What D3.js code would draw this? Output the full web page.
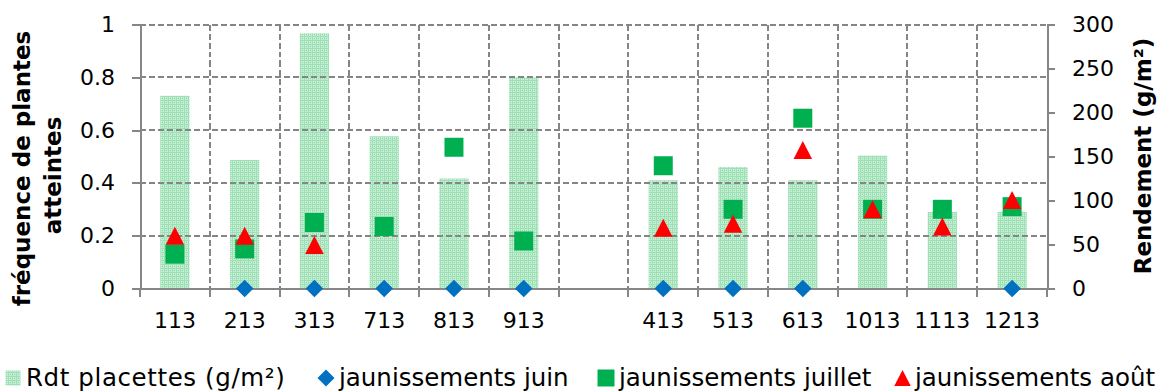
<!DOCTYPE html>
<html>
<head>
<meta charset="utf-8">
<script src="https://cdn.jsdelivr.net/npm/d3@7"></script>
<style>
  body { margin: 0; background: #fff; }
  svg { display: block; }
  text { font-family: "DejaVu Sans", sans-serif; fill: #000; }
</style>
</head>
<body>
<svg id="chart" width="1161" height="392"></svg>
<script>
// Plots: one empty slot separates the two groups
const categories = ["113", "213", "313", "713", "813", "913", "", "413", "513", "613", "1013", "1113", "1213"];
// Yield per plot (g/m², right axis)
const rdtPlacettes = [219, 146, 290, 173, 125, 240, null, 123, 138, 123, 151, 87, 87];
// Share of affected plants (left axis)
const jaunJuin    = [null, 0, 0, 0, 0, 0, null, 0, 0, 0, null, null, 0];
const jaunJuillet = [0.13, 0.15, 0.25, 0.235, 0.535, 0.18, null, 0.465, 0.30, 0.645, 0.30, 0.30, 0.31];
const jaunAout    = [0.20, 0.20, 0.165, null, null, null, null, 0.23, 0.245, 0.525, 0.30, 0.235, 0.335];
const freqTicks = [0, 0.2, 0.4, 0.6, 0.8, 1];
const rdtTicks = [0, 50, 100, 150, 200, 250, 300];
const legendLabels = ["Rdt placettes (g/m²)", "jaunissements juin", "jaunissements juillet", "jaunissements août"];

const colBlue = "#0070C0", colGreen = "#00B050", colRed = "#FF0000";
const gridCol = "#858585", axisCol = "#868686";

const svg = d3.select("#chart");
const plot = { left: 140, right: 1047, top: 24.5, bottom: 288.5 };

const x = d3.scaleBand().domain(d3.range(categories.length)).range([plot.left, plot.right]);
const yL = d3.scaleLinear().domain([0, 1]).range([plot.bottom, plot.top]);
const yR = d3.scaleLinear().domain([0, 300]).range([plot.bottom, plot.top]);
const cx = i => x(i) + x.bandwidth() / 2;

// dotted light-green fill for the yield bars
const defs = svg.append("defs");
const pat = defs.append("pattern").attr("id", "rdtPattern")
  .attr("patternUnits", "userSpaceOnUse").attr("width", 4).attr("height", 4);
pat.append("rect").attr("width", 4).attr("height", 4).attr("fill", "#c3eed2");
pat.append("rect").attr("width", 4).attr("height", 1).attr("fill", "#9edfb6");
pat.append("rect").attr("width", 1).attr("height", 4).attr("fill", "#9edfb6");
pat.append("rect").attr("x", 2).attr("y", 2).attr("width", 1).attr("height", 1).attr("fill", "#80d4a0");

// bars
const barW = x.bandwidth() * 0.42;
svg.append("g").selectAll("rect")
  .data(rdtPlacettes.map((v, i) => ({ v, i })).filter(d => d.v != null))
  .join("rect")
  .attr("x", d => cx(d.i) - barW / 2)
  .attr("y", d => yR(d.v))
  .attr("width", barW)
  .attr("height", d => yR(0) - yR(d.v))
  .attr("fill", "url(#rdtPattern)");

// dashed gridlines
const grid = svg.append("g").attr("stroke", gridCol).attr("stroke-width", 2)
  .attr("stroke-dasharray", "6,3").attr("shape-rendering", "crispEdges");
grid.selectAll("line.h").data(freqTicks.filter(t => t > 0)).join("line")
  .attr("x1", plot.left).attr("x2", plot.right)
  .attr("y1", d => yL(d)).attr("y2", d => yL(d));
grid.selectAll("line.v").data(d3.range(1, categories.length)).join("line")
  .attr("x1", d => x(d)).attr("x2", d => x(d))
  .attr("y1", plot.top).attr("y2", plot.bottom);

function styleAxis(g) {
  g.selectAll(".domain, .tick line").attr("stroke", axisCol).attr("stroke-width", 2).attr("shape-rendering", "crispEdges");
  g.selectAll("text").attr("font-family", "DejaVu Sans, sans-serif").attr("font-size", 22).attr("fill", "#000");
}

// left axis
svg.append("g").attr("transform", `translate(${plot.left},0)`)
  .call(d3.axisLeft(yL).tickValues(freqTicks).tickSize(8).tickSizeOuter(0).tickPadding(17).tickFormat(d3.format("")))
  .call(styleAxis);

// right axis
svg.append("g").attr("transform", `translate(${plot.right},0)`)
  .call(d3.axisRight(yR).tickValues(rdtTicks).tickSize(8).tickSizeOuter(0).tickPadding(17))
  .call(styleAxis);

// bottom axis: labels in slot centres, ticks on slot boundaries
const xb = svg.append("g").attr("transform", `translate(0,${plot.bottom})`)
  .call(d3.axisBottom(x).tickSize(0).tickPadding(23.5).tickFormat(i => categories[i]))
  .call(styleAxis);
xb.select(".domain").attr("d", `M${plot.left},0H${plot.right}`);
xb.selectAll("line.bt").data(d3.range(categories.length + 1)).join("line")
  .attr("class", "bt")
  .attr("x1", d => d < categories.length ? x(d) : plot.right)
  .attr("x2", d => d < categories.length ? x(d) : plot.right)
  .attr("y1", 0).attr("y2", 8)
  .attr("stroke", axisCol).attr("stroke-width", 2).attr("shape-rendering", "crispEdges");

// marker shapes
const diamond = r => `M0,${-r}L${r},0L0,${r}L${-r},0Z`;
const square = s => `M${-s / 2},${-s / 2}h${s}v${s}h${-s}Z`;
const triangle = (w, h) => `M0,${-h / 2}L${w / 2},${h / 2}L${-w / 2},${h / 2}Z`;

function markers(values, path, color) {
  svg.append("g").selectAll("path")
    .data(values.map((v, i) => ({ v, i })).filter(d => d.v != null))
    .join("path")
    .attr("d", path)
    .attr("transform", d => `translate(${cx(d.i)},${yL(d.v)})`)
    .attr("fill", color);
}
markers(jaunJuin, diamond(8.8), colBlue);
markers(jaunJuillet, square(19), colGreen);
markers(jaunAout, triangle(18.5, 18), colRed);

// axis titles
const tl = svg.append("g").attr("font-weight", "bold").attr("font-size", 23);
tl.append("text").attr("transform", "translate(30,168.5) rotate(-90)").attr("text-anchor", "middle")
  .attr("font-weight", "bold").text("fréquence de plantes");
tl.append("text").attr("transform", "translate(61,175.5) rotate(-90)").attr("text-anchor", "middle")
  .attr("font-weight", "bold").text("atteintes");
tl.append("text").attr("transform", "translate(1151,156) rotate(-90)").attr("text-anchor", "middle")
  .attr("font-weight", "bold").text("Rendement (g/m²)");

// legend
const lg = svg.append("g").attr("font-size", 24.5);
const legY = 378, legBase = 386;
lg.append("rect").attr("x", 5.5).attr("y", legY - 7.5).attr("width", 15).attr("height", 15).attr("fill", "url(#rdtPattern)");
lg.append("text").attr("x", 26).attr("y", legBase).attr("letter-spacing", 0.6).text(legendLabels[0]);
lg.append("path").attr("d", diamond(8.5)).attr("transform", `translate(326,${legY})`).attr("fill", colBlue);
lg.append("text").attr("x", 339).attr("y", legBase).text(legendLabels[1]);
lg.append("path").attr("d", square(17)).attr("transform", `translate(606,${legY})`).attr("fill", colGreen);
lg.append("text").attr("x", 619).attr("y", legBase).text(legendLabels[2]);
lg.append("path").attr("d", triangle(16.5, 16)).attr("transform", `translate(902.5,${legY})`).attr("fill", colRed);
lg.append("text").attr("x", 915).attr("y", legBase).text(legendLabels[3]);
</script>
</body>
</html>
